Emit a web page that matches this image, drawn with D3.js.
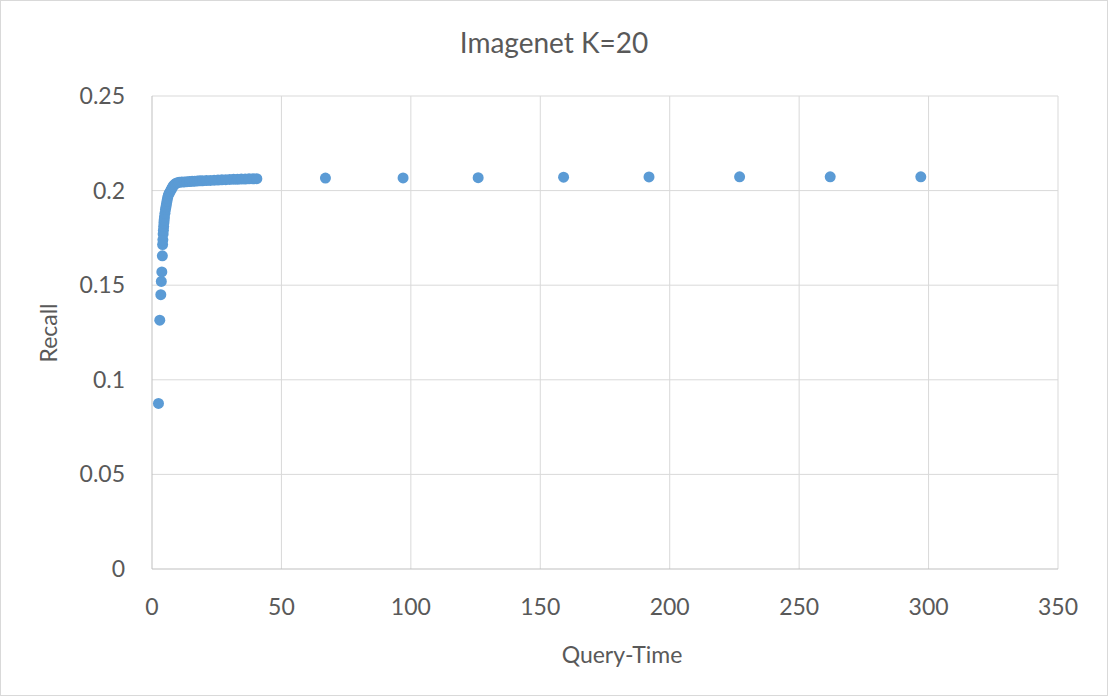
<!DOCTYPE html>
<html><head><meta charset="utf-8">
<script src="https://cdn.jsdelivr.net/npm/d3@7"></script>
<style>body{margin:0;background:#fff}text{font-family:Lato,"Liberation Sans",sans-serif;fill:#595959}</style>
</head><body><svg id="c" width="1108" height="696"></svg>
<script>
var queryTime = [2.5, 3, 3.4, 3.6, 3.8, 4, 4.1, 4.2, 4.3, 4.4, 4.5, 4.6, 4.7, 4.8, 5, 5.2, 5.4, 5.6, 5.8, 6, 6.3, 6.6, 7, 7.4, 7.8, 8.2, 8.7, 9.2, 9.8, 10.5, 11.5, 12.5, 13.5, 14.5, 15.5, 16.5, 17.5, 18.5, 19.5, 21, 22.5, 24, 25.5, 27, 28.5, 30, 31.5, 33, 34.5, 36, 37.5, 39, 40.5,
  67, 97, 126, 159, 192, 227, 262, 297];
var recall = [0.0875, 0.1315, 0.145, 0.152, 0.157, 0.1655, 0.1715, 0.174, 0.177, 0.179, 0.181, 0.183, 0.1845, 0.186, 0.188, 0.19, 0.1915, 0.193, 0.1945, 0.196, 0.1975, 0.1985, 0.1995, 0.2005, 0.2015, 0.2025, 0.2032, 0.2038, 0.2042, 0.2044, 0.2045, 0.2046, 0.2047, 0.2048, 0.2049, 0.205, 0.2051, 0.2052, 0.2052, 0.2053, 0.2054, 0.2055, 0.2056, 0.2057, 0.2058, 0.2059, 0.206, 0.206, 0.2061, 0.2061, 0.2062, 0.2062, 0.2063,
  0.2066, 0.2067, 0.2068, 0.2071, 0.2072, 0.2073, 0.2073, 0.2073];
var xTicks = [0, 50, 100, 150, 200, 250, 300, 350];
var yTicks = [0, 0.05, 0.1, 0.15, 0.2, 0.25];

var svg = d3.select('#c');
svg.append('rect').attr('x', 0.5).attr('y', 0.5).attr('width', 1107).attr('height', 695)
  .attr('fill', '#fff').attr('stroke', '#d9d9d9');

var x = d3.scaleLinear().domain([0, 350]).range([152, 1058]);
var y = d3.scaleLinear().domain([0, 0.25]).range([569, 96]);

svg.append('g').selectAll('line').data(xTicks.slice(1)).enter().append('line')
  .attr('x1', x).attr('x2', x).attr('y1', y(0)).attr('y2', y(0.25))
  .attr('stroke', '#d9d9d9');
svg.append('g').selectAll('line').data(yTicks.slice(1)).enter().append('line')
  .attr('y1', y).attr('y2', y).attr('x1', x(0)).attr('x2', x(350))
  .attr('stroke', '#d9d9d9');
svg.append('line').attr('x1', x(0)).attr('x2', x(0)).attr('y1', y(0)).attr('y2', y(0.25)).attr('stroke', '#bfbfbf');
svg.append('line').attr('x1', x(0)).attr('x2', x(350)).attr('y1', y(0)).attr('y2', y(0)).attr('stroke', '#bfbfbf');

svg.append('g').selectAll('text').data(xTicks).enter().append('text')
  .attr('x', x).attr('y', 615).attr('text-anchor', 'middle').attr('font-size', 23)
  .text(function(d) { return d; });
svg.append('g').selectAll('text').data(yTicks).enter().append('text')
  .attr('x', 125).attr('y', function(d) { return y(d) + 8; }).attr('text-anchor', 'end').attr('font-size', 23)
  .text(function(d) { return d; });

svg.append('g').selectAll('circle').data(queryTime).enter().append('circle')
  .attr('cx', function(d) { return x(d); })
  .attr('cy', function(d, i) { return y(recall[i]); })
  .attr('r', 5.5).attr('fill', '#5b9bd5');

svg.append('text').attr('x', 554).attr('y', 53).attr('text-anchor', 'middle').attr('font-size', 28).text('Imagenet K=20');
svg.append('text').attr('x', 622).attr('y', 663).attr('text-anchor', 'middle').attr('font-size', 23).text('Query-Time');
svg.append('text').attr('transform', 'translate(57,333) rotate(-90)').attr('text-anchor', 'middle').attr('font-size', 23).text('Recall');
</script></body></html>
